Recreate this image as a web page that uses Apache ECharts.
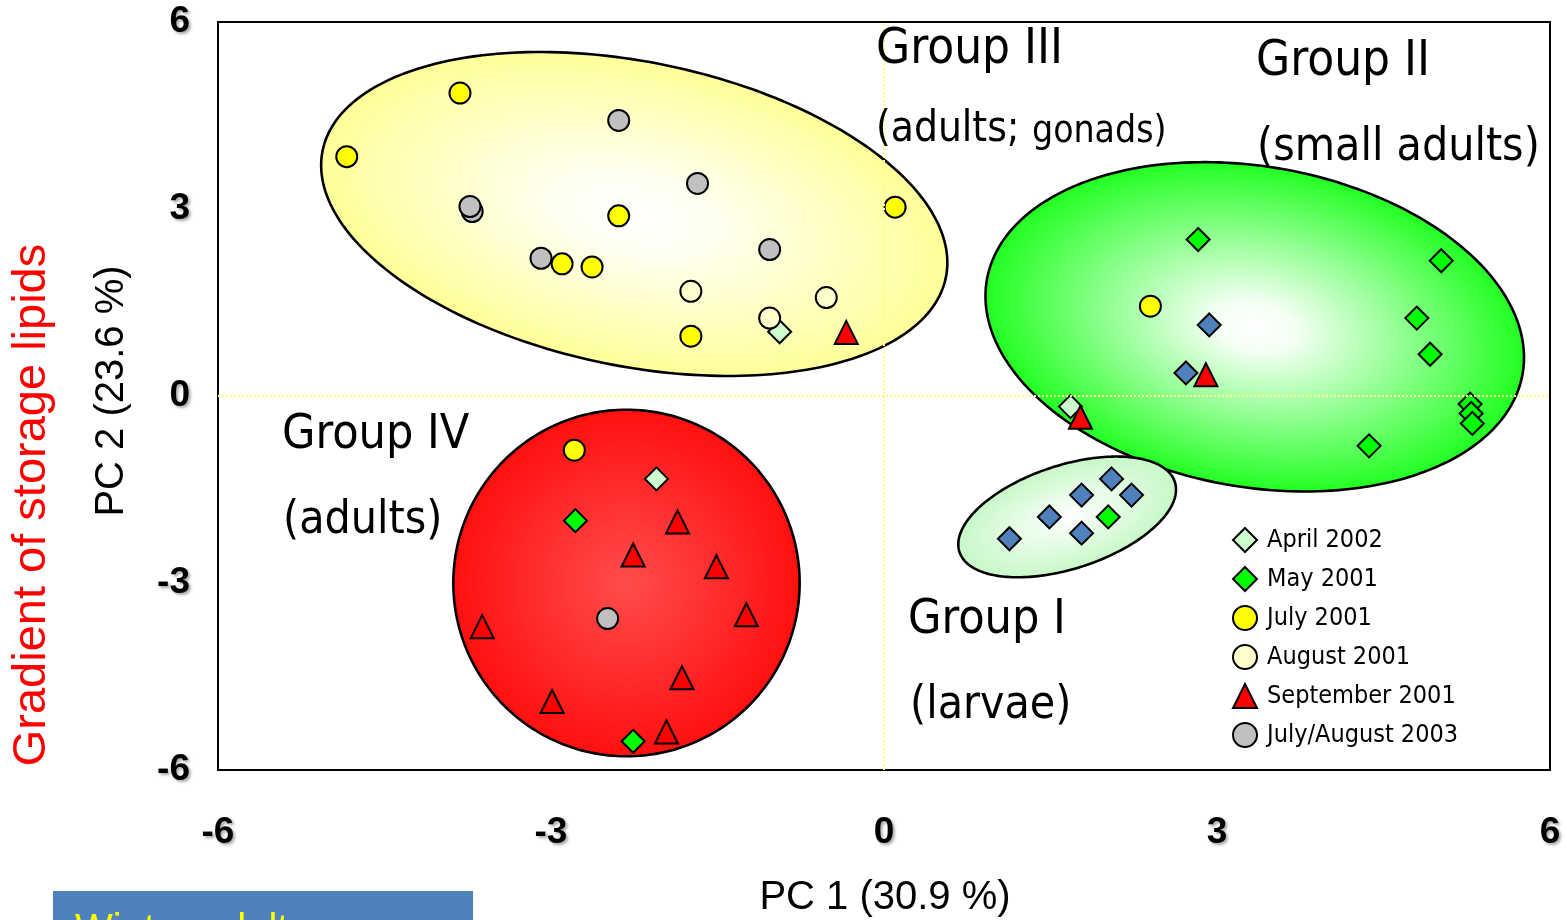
<!DOCTYPE html>
<html><head><meta charset="utf-8">
<script src="https://cdn.jsdelivr.net/npm/echarts@6/dist/echarts.min.js"></script>
<style>html,body{margin:0;padding:0;background:#fff;overflow:hidden}#c{width:1567px;height:920px}</style>
</head><body><div id="c"></div>
<script>
// ---- data (PC1, PC2) ----
const legendNames = ['April 2002','May 2001','July 2001','August 2001','September 2001','July/August 2003'];
const april2002 = [[-0.94,1.03],[1.68,-0.17],[-2.05,-1.33]];
const may2001 = [[2.83,2.51],[5.02,2.17],[4.80,1.25],[4.92,0.67],[5.28,-0.13],[5.29,-0.28],[5.30,-0.44],[4.37,-0.80],[2.02,-1.94],[-2.78,-2.00],[-2.26,-5.54]];
const july2001 = [[-3.82,4.86],[-4.84,3.84],[-2.39,2.89],[-2.90,2.12],[-2.63,2.07],[-1.74,0.96],[0.10,3.03],[2.40,1.44],[-2.79,-0.87]];
const august2001 = [[-1.74,1.68],[-0.52,1.58],[-1.03,1.25]];
const september2001 = [[-0.34,1.02],[2.90,0.34],[1.77,-0.34],[-1.86,-2.02],[-2.26,-2.55],[-1.51,-2.74],[-1.24,-3.51],[-3.62,-3.70],[-1.82,-4.52],[-2.99,-4.90],[-1.96,-5.39]];
const julyAugust2003 = [[-2.39,4.42],[-1.68,3.41],[-3.71,2.96],[-3.73,3.04],[-3.09,2.21],[-1.03,2.35],[-2.49,-3.57]];
const larvae = [[2.93,1.14],[2.72,0.37],[2.05,-1.33],[1.78,-1.59],[2.23,-1.59],[1.49,-1.94],[1.78,-2.20],[1.13,-2.29]];
// group ellipses: [centerX, centerY, semiAxisA (x units), semiAxisB (y units), tilt deg CCW]
const groupEllipses = [
  [-2.25, 2.92, 2.865, 2.44, -11.5],  // Group III
  [3.34, 1.11, 2.45, 2.57, -10],      // Group II
  [1.65, -1.94, 1.02, 0.83, 18],      // Group I
  [-2.32, -3.00, 1.56, 2.78, 0]       // Group IV
];
const axisTicks = {min: -6, max: 6, interval: 3};

// ---- styles ----
const ellipseStops = [
  [[0,'#FFFFFF'],[0.25,'#FFFFF2'],[1,'#FFFF99']],
  [[0,'#FFFFFF'],[0.15,'#F4FFF4'],[1,'#22FF22']],
  [[0,'#FFFFFF'],[1,'#C8F8C8']],
  [[0,'#FF4C4C'],[1,'#FF1010']]
];
const condensed = '"DejaVu Sans Condensed", "DejaVu Sans", sans-serif';
const arial = '"Liberation Sans", Arial, sans-serif';

function scatter(name, data, symbol, color, size, z) {
  return {
    name, type: 'scatter', data, symbol, symbolSize: size, z: z || 3,
    itemStyle: {color, borderColor: '#000', borderWidth: 2, opacity: 1},
    emphasis: {disabled: true}, silent: true
  };
}

const chart = echarts.init(document.getElementById('c'), null, {renderer: 'canvas'});
const tickLabel = {fontFamily: arial, fontWeight: 'bold', fontSize: 37, color: '#000',
  textShadowColor: 'rgba(0,0,0,0.35)', textShadowBlur: 3, textShadowOffsetX: 2, textShadowOffsetY: 2};

function label(text, x, y, size, extra) {
  return Object.assign({type: 'text', x, y, z: 20, style: {text, fontFamily: condensed, fontSize: size, fill: '#000', textAlign: 'left', textVerticalAlign: 'middle'}}, extra || {});
}

chart.setOption({
  animation: false,
  backgroundColor: '#fff',
  grid: {left: 218, top: 22, width: 1332, height: 748, show: true, borderColor: '#000', borderWidth: 2, backgroundColor: 'transparent'},
  xAxis: {type: 'value', min: axisTicks.min, max: axisTicks.max, interval: axisTicks.interval,
    axisLine: {show: false}, axisTick: {show: false}, splitLine: {show: false},
    axisLabel: Object.assign({margin: 44}, tickLabel)},
  yAxis: {type: 'value', min: axisTicks.min, max: axisTicks.max, interval: axisTicks.interval,
    axisLine: {show: false}, axisTick: {show: false}, splitLine: {show: false},
    axisLabel: Object.assign({margin: 28}, tickLabel)},
  legend: {
    data: legendNames, orient: 'vertical', left: 1227, top: 522,
    itemWidth: 24, itemHeight: 24, itemGap: 13,
    textStyle: {fontFamily: condensed, fontSize: 25, color: '#000', padding: [0, 0, 0, 5]},
    selectedMode: false, z: 10
  },
  series: [
    {
      type: 'custom', name: 'groups', z: 1, silent: true, clip: false,
      data: groupEllipses.map((e, i) => e.concat([i])),
      encode: {x: 0, y: 1},
      renderItem: function (params, api) {
        const c = api.coord([api.value(0), api.value(1)]);
        const s = api.size([api.value(2), api.value(3)]);
        const a = s[0], b = s[1];
        const tilt = api.value(4) * Math.PI / 180;
        const k = api.value(5);
        const pts = [];
        for (let i = 0; i < 240; i++) {
          const t = i / 240 * 2 * Math.PI;
          const ex = a * Math.cos(t), ey = b * Math.sin(t);
          pts.push([c[0] + ex * Math.cos(tilt) + ey * Math.sin(tilt), c[1] - ex * Math.sin(tilt) + ey * Math.cos(tilt)]);
        }
        return {type: 'group', children: [
          {type: 'circle', x: c[0], y: c[1], rotation: tilt, scaleX: a / b, scaleY: 1,
            shape: {cx: 0, cy: 0, r: b},
            style: {fill: {type: 'radial', x: 0.5, y: 0.5, r: 0.5,
              colorStops: ellipseStops[k].map(s => ({offset: s[0], color: s[1]}))}}},
          {type: 'polygon', shape: {points: pts}, style: {fill: null, stroke: '#000', lineWidth: 2.6}}
        ]};
      }
    },
    {
      type: 'scatter', name: 'zero', data: [], z: 2, silent: true,
      markLine: {silent: true, symbol: 'none', label: {show: false}, animation: false,
        lineStyle: {color: '#FFFF88', type: 'dotted', width: 2},
        emphasis: {disabled: true},
        data: [{xAxis: 0}, {yAxis: 0}]}
    },
    scatter('larvae', larvae, 'diamond', '#4F81BD', 23),
    scatter('April 2002', april2002, 'diamond', '#CCFFCC', 23),
    scatter('May 2001', may2001, 'diamond', '#00FF00', 23),
    scatter('July 2001', july2001, 'circle', '#FFFF00', 21),
    scatter('August 2001', august2001, 'circle', '#FFFFCC', 21),
    scatter('September 2001', september2001, 'triangle', '#FF0000', 23),
    scatter('July/August 2003', julyAugust2003, 'circle', '#C0C0C0', 21)
  ],
  graphic: [
    label('Group III', 876, 50, 49),
    label('(adults;', 876, 130, 42),
    label('gonads)', 1032, 132, 37),
    label('Group II', 1256, 62, 49),
    label('(small adults)', 1257, 148, 46),
    label('Group IV', 282, 436, 48),
    label('(adults)', 283, 521, 46),
    label('Group I', 908, 621, 48),
    label('(larvae)', 910, 706, 46),
    {type: 'text', x: 885, y: 898, z: 20, style: {text: 'PC 1 (30.9 %)', fontFamily: arial, fontSize: 40, fill: '#000', textAlign: 'center', textVerticalAlign: 'middle'}},
    {type: 'text', x: 112, y: 391, rotation: Math.PI / 2, z: 20, style: {text: 'PC 2 (23.6 %)', fontFamily: arial, fontSize: 40, fill: '#000', textAlign: 'center', textVerticalAlign: 'middle'}},
    {type: 'text', x: 32, y: 505, rotation: Math.PI / 2, z: 20, style: {text: 'Gradient of storage lipids', fontFamily: arial, fontSize: 47, fill: '#FF0000', textAlign: 'center', textVerticalAlign: 'middle'}},
    {type: 'rect', z: 20, shape: {x: 53, y: 891, width: 420, height: 40}, style: {fill: '#4F81BD'}},
    {type: 'text', x: 75, y: 931, z: 21, style: {text: 'Winter adults', fontFamily: arial, fontSize: 40, fill: '#FFFF00', textAlign: 'left', textVerticalAlign: 'middle'}}
  ]
});
</script>
</body></html>
